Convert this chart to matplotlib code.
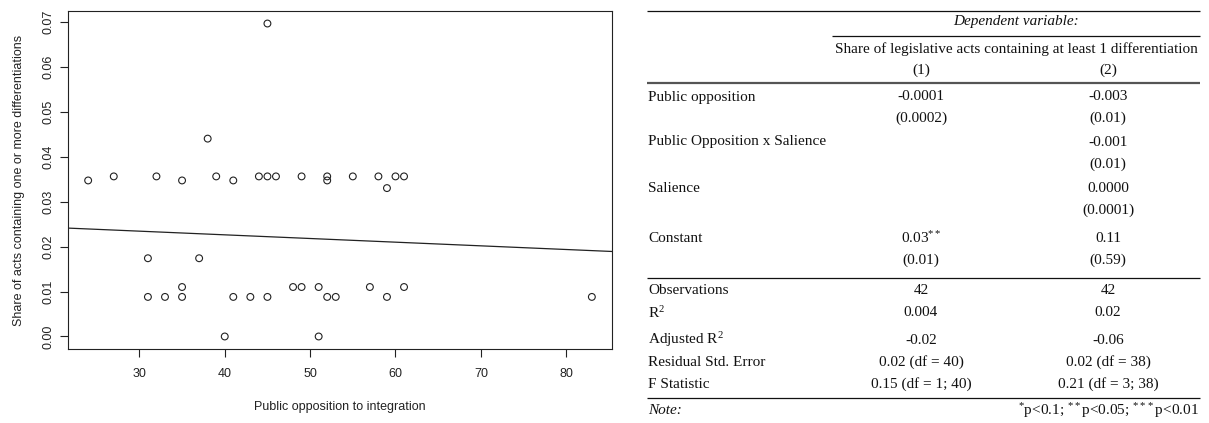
import numpy as np
import matplotlib
matplotlib.use("Agg")
import matplotlib.pyplot as plt

# Scatter data: public opposition (%) vs. share of acts with differentiations
opposition = [24, 27, 32, 35, 38, 39, 41, 44, 45, 45, 46, 49, 52, 52, 55, 58, 59, 60, 61,
              31, 37, 31, 33, 35, 35, 40, 41, 43, 45, 48, 49, 51, 51, 52, 53, 57, 59, 61, 83]
share = [0.0347, 0.0356, 0.0356, 0.0347, 0.0440, 0.0356, 0.0347, 0.0356, 0.0356, 0.0696,
         0.0356, 0.0356, 0.0356, 0.0347, 0.0356, 0.0356, 0.0330, 0.0356, 0.0356,
         0.0174, 0.0174, 0.0088, 0.0088, 0.0110, 0.0088, 0.0000, 0.0088, 0.0088, 0.0088,
         0.0110, 0.0110, 0.0110, 0.0000, 0.0088, 0.0088, 0.0110, 0.0088, 0.0110, 0.0088]

# Fitted bivariate regression line
fit_intercept = 0.02587
fit_slope = -0.0000816

x_ticks = [30, 40, 50, 60, 70, 80]
y_ticks = [0.00, 0.01, 0.02, 0.03, 0.04, 0.05, 0.06, 0.07]
y_tick_labels = ["0.00", "0.01", "0.02", "0.03", "0.04", "0.05", "0.06", "0.07"]

# Regression table contents
col_headers = ["(1)", "(2)"]
dep_var_title = "Dependent variable:"
dep_var_name = "Share of legislative acts containing at least 1 differentiation"
coef_rows = [
    ("Public opposition", ["-0.0001", "-0.003"], ["(0.0002)", "(0.01)"]),
    ("Public Opposition x Salience", ["", "-0.001"], ["", "(0.01)"]),
    ("Salience", ["", "0.0000"], ["", "(0.0001)"]),
    ("Constant", ["0.03$^{**}$", "0.11"], ["(0.01)", "(0.59)"]),
]
stat_rows = [
    ("Observations", ["42", "42"]),
    ("R$^{2}$", ["0.004", "0.02"]),
    ("Adjusted R$^{2}$", ["-0.02", "-0.06"]),
    ("Residual Std. Error", ["0.02 (df = 40)", "0.02 (df = 38)"]),
    ("F Statistic", ["0.15 (df = 1; 40)", "0.21 (df = 3; 38)"]),
]
note_label = "Note:"
note_text = "$^{*}$p<0.1; $^{**}$p<0.05; $^{***}$p<0.01"

plt.rcParams["mathtext.fontset"] = "custom"
plt.rcParams["mathtext.rm"] = "Liberation Serif"
plt.rcParams["mathtext.it"] = "Liberation Serif:italic"

W, H = 1209, 423
fig = plt.figure(figsize=(W / 100, H / 100), dpi=100)

# ---- scatter panel ----
L, R, T, B = 68, 612, 11, 349
ax = fig.add_axes([L / W, 1 - B / H, (R - L) / W, (B - T) / H])
ax.scatter(opposition, share, s=24, facecolors="none", edgecolors="#222222",
           linewidths=0.8, zorder=3)
xr = max(opposition) - min(opposition)
yr = max(share) - min(share)
ax.set_xlim(min(opposition) - 0.04 * xr, max(opposition) + 0.04 * xr)
ax.set_ylim(min(share) - 0.04 * yr, max(share) + 0.04 * yr)
ax.axline((0, fit_intercept), slope=fit_slope, color="#222222", lw=0.9)

sans = ["Liberation Sans", "DejaVu Sans"]
ax.set_xticks(x_ticks)
ax.set_xticklabels([str(v) for v in x_ticks], fontsize=9, family=sans, color="#222222")
ax.set_yticks(y_ticks)
ax.set_yticklabels(y_tick_labels, fontsize=9, family=sans, color="#222222",
                   rotation=90, va="center")
ax.tick_params(axis="both", direction="out", length=5.5, width=0.8, color="#222222")
ax.tick_params(axis="x", pad=8)
ax.tick_params(axis="y", pad=4)
for sp in ax.spines.values():
    sp.set_linewidth(0.8)
    sp.set_color("#222222")
ax.set_xlabel("Public opposition to integration", fontsize=9, family=sans,
              color="#222222", labelpad=15)
ax.set_ylabel("Share of acts containing one or more differentiations", fontsize=9,
              family=sans, color="#222222", labelpad=13)

# ---- regression table (pixel coordinate overlay) ----
tab = fig.add_axes([0, 0, 1, 1])
tab.set_xlim(0, W)
tab.set_ylim(H, 0)
tab.axis("off")

serif = ["Liberation Serif", "DejaVu Serif"]
fs = 11
x_left, x_right = 647, 1200
x_mid = 832
c1, c2 = 921, 1108
txt = dict(fontsize=fs, family=serif, color="#111111", va="center")

def hline(y, x0=x_left, x1=x_right, lw=0.9, color="#111111"):
    tab.plot([x0, x1], [y, y], color=color, lw=lw, solid_capstyle="butt")

hline(10.7)
tab.text((x_mid + x_right) / 2, 22, dep_var_title, ha="center", style="italic", **txt)
hline(36, x0=x_mid)
tab.text((x_mid + x_right) / 2, 49, dep_var_name, ha="center", **txt)
tab.text(c1, 70, col_headers[0], ha="center", **txt)
tab.text(c2, 70, col_headers[1], ha="center", **txt)
hline(83, lw=1.6, color="#555555")

coef_y = [(97, 118), (142, 164), (188, 210), (238, 260)]
for (label, est, se), (y1, y2) in zip(coef_rows, coef_y):
    tab.text(x_left + 1, y1, label, ha="left", **txt)
    for cx, e, s in zip((c1, c2), est, se):
        if e:
            tab.text(cx, y1, e, ha="center", **txt)
        if s:
            tab.text(cx, y2, s, ha="center", **txt)

hline(278)
stat_y = [291, 313, 340, 362, 384]
for (label, vals), y in zip(stat_rows, stat_y):
    tab.text(x_left + 1, y, label, ha="left", **txt)
    tab.text(c1, y, vals[0], ha="center", **txt)
    tab.text(c2, y, vals[1], ha="center", **txt)

hline(398)
tab.text(x_left + 1, 411, note_label, ha="left", style="italic", **txt)
tab.text(x_right - 1, 411, note_text, ha="right", **txt)

fig.savefig("out.png", dpi=100)
